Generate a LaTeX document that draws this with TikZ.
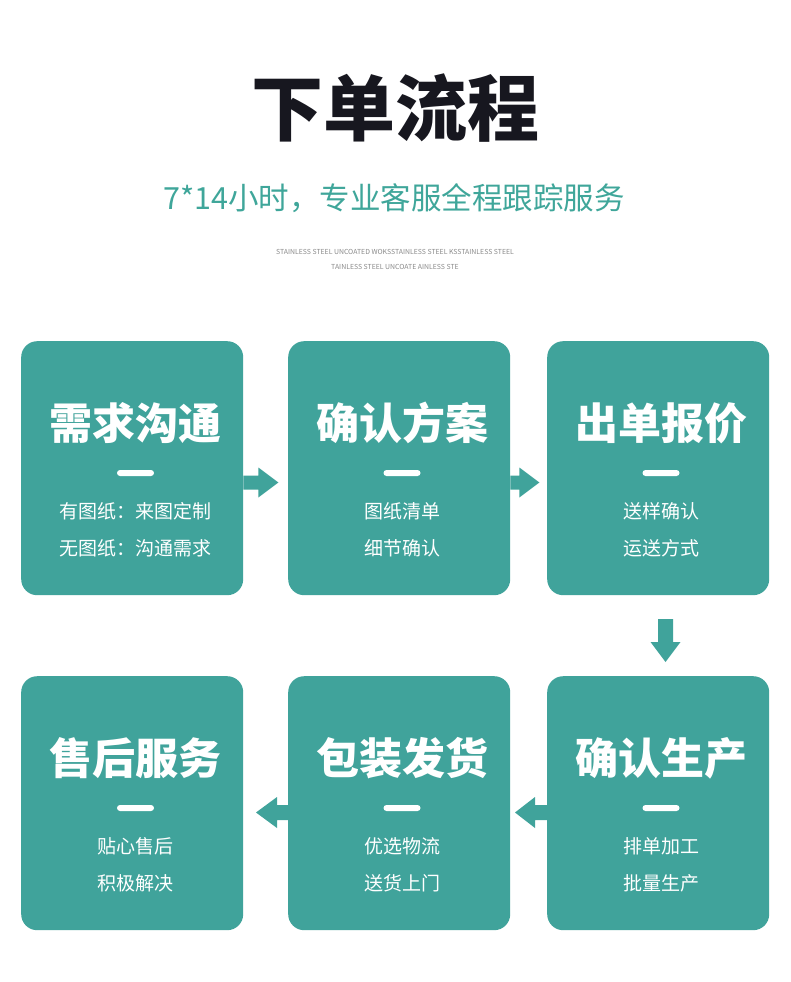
\documentclass[tikz,border=0pt]{standalone}
\usepackage{fontspec}
\setmainfont{Noto Sans CJK SC}
\definecolor{tealA}{HTML}{40A39B}
\definecolor{tealT}{HTML}{3FA69A}
\definecolor{inkA}{HTML}{17171F}
\definecolor{grayA}{HTML}{8A8A8A}
\begin{document}
\begin{tikzpicture}[x=1pt,y=-1pt,
  card/.style={fill=tealA, rounded corners=16pt, minimum width=222pt, minimum height=254pt, anchor=north west, inner sep=0pt},
  ctitle/.style={text=white, inner sep=0pt, font=\fontsize{43}{43}\selectfont\bfseries},
  cline/.style={text=white, inner sep=0pt, font=\fontsize{19}{19}\selectfont},
  barbox/.style={fill=white, rounded corners=3pt, minimum width=37pt, minimum height=6pt, inner sep=0pt},
  blk/.style={fill=tealA, draw=none}
]
\useasboundingbox (0,0) rectangle (790,982);
\fill[white] (0,0) rectangle (790,982);

% headings
\node[text=inkA, inner sep=0pt, font=\fontsize{72}{72}\selectfont\bfseries] (title) at (395.5,108) {下单流程};
\node[text=tealT, inner sep=0pt, font=\fontsize{30.5}{30.5}\selectfont] (sub) at (394,198) {7*14小时，专业客服全程跟踪服务};
\node[text=grayA, inner sep=0pt, font=\fontsize{6.9}{6.9}\selectfont] (small1) at (395,252) {STAINLESS STEEL UNCOATED WOKSSTAINLESS STEEL KSSTAINLESS STEEL};
\node[text=grayA, inner sep=0pt, font=\fontsize{6.9}{6.9}\selectfont] (small2) at (395,267) {TAINLESS STEEL UNCOATE AINLESS STE};

% cards
\node[card] (b1) at (21,341) {};
\node[card] (b2) at (288,341) {};
\node[card] (b3) at (547,341) {};
\node[card] (b4) at (21,676) {};
\node[card] (b5) at (288,676) {};
\node[card] (b6) at (547,676) {};

% card contents
\newcommand{\cardtext}[6]{%
  \node[ctitle] (#1t) at (#2,#3) {#4};
  \node[barbox] (#1bar) at (#2,#3+50) {};
  \node[cline] (#1a) at (#2,#3+88) {#5};
  \node[cline] (#1b) at (#2,#3+125) {#6};
}
\cardtext{c1}{135.5}{423}{需求沟通}{有图纸：来图定制}{无图纸：沟通需求}
\cardtext{c2}{402}{423}{确认方案}{图纸清单}{细节确认}
\cardtext{c3}{661}{423}{出单报价}{送样确认}{运送方式}
\cardtext{c4}{135.5}{758}{售后服务}{贴心售后}{积极解决}
\cardtext{c5}{402}{758}{包装发货}{优选物流}{送货上门}
\cardtext{c6}{661}{758}{确认生产}{排单加工}{批量生产}

% arrows (block arrows between cards)
\coordinate (a12) at (b1.east |- 0,482.5);
\coordinate (a23) at (b2.east |- 0,482.5);
\coordinate (a36) at (665.5,619);
\coordinate (a65) at (515,812.5);
\coordinate (a54) at (256,812.5);
\fill[blk] (a12) ++(0,-7) -- ++(15,0) -- ++(0,-8) -- ++(20,15) -- ++(-20,15) -- ++(0,-8) -- ++(-15,0) -- cycle;
\fill[blk] (a23) ++(0,-7) -- ++(9,0) -- ++(0,-8) -- ++(20,15) -- ++(-20,15) -- ++(0,-8) -- ++(-9,0) -- cycle;
\fill[blk] (a36) ++(-7.5,0) -- ++(0,23) -- ++(-7.5,0) -- ++(15,20) -- ++(15,-20) -- ++(-7.5,0) -- ++(0,-23) -- cycle;
\fill[blk] (a65) -- ++(20,-15.5) -- ++(0,8) -- ++(12,0) -- ++(0,15) -- ++(-12,0) -- ++(0,8) -- cycle;
\fill[blk] (a54) -- ++(21,-15.5) -- ++(0,8) -- ++(11,0) -- ++(0,15) -- ++(-11,0) -- ++(0,8) -- cycle;
\end{tikzpicture}
\end{document}
